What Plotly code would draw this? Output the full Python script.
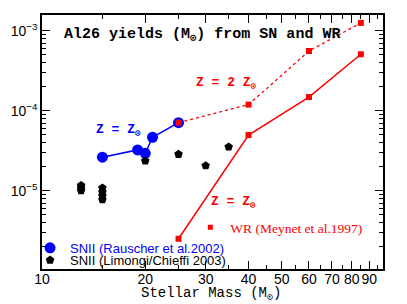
import plotly.graph_objects as go

# ---- data ----
rauscher_mass = [15, 19, 20, 21, 25]
rauscher_al26 = [2.62e-5, 3.23e-5, 2.93e-5, 4.65e-5, 7.08e-5]

limongi_mass = [13, 13, 13, 15, 15, 15, 15, 20, 25, 30, 35]
limongi_al26 = [1.16e-5, 1.08e-5, 1.0e-5, 1.08e-5, 0.96e-5, 0.86e-5, 0.77e-5,
                2.35e-5, 2.85e-5, 2.05e-5, 3.52e-5]

wr_mass = [25, 40, 60, 85]
wr_zsun = [2.5e-6, 4.95e-5, 1.48e-4, 5.07e-4]
wr_2zsun = [7.08e-5, 1.19e-4, 5.57e-4, 1.25e-3]

x_major = [10, 20, 30, 40, 50, 60, 70, 80, 90]
x_major_text = ["10", "20", "30", "40", "50", "60", "70", "80", "90"]
x_minor = [15, 25, 35, 45, 55, 65, 75, 85, 95]
y_major = [1e-5, 1e-4, 1e-3]
y_major_text = ["10<sup>−5</sup>", "10<sup>−4</sup>", "10<sup>−3</sup>"]
y_minor = [m * 10.0 ** e for e in (-6, -5, -4, -3) for m in range(2, 10)]

BLUE = "#0000ff"
RED = "#ff0000"
MONO = "Liberation Mono, Courier New, monospace"
SANS = "Liberation Sans, Arial, sans-serif"
NARROW = "Liberation Sans Narrow, Arial Narrow, Liberation Sans, sans-serif"
SERIF = "Liberation Serif, Times New Roman, serif"

fig = go.Figure()

fig.add_trace(go.Scatter(
    x=wr_mass, y=wr_2zsun, mode="lines+markers",
    line=dict(color=RED, width=1.3, dash="dot"),
    marker=dict(symbol="square", size=6, color=RED),
    showlegend=False))
fig.add_trace(go.Scatter(
    x=wr_mass, y=wr_zsun, mode="lines+markers",
    line=dict(color=RED, width=1.5),
    marker=dict(symbol="square", size=6, color=RED),
    showlegend=False))
fig.add_trace(go.Scatter(
    x=rauscher_mass, y=rauscher_al26, mode="lines+markers",
    line=dict(color=BLUE, width=1.5),
    marker=dict(symbol="circle", size=11, color=BLUE),
    showlegend=False))
fig.add_trace(go.Scatter(
    x=limongi_mass, y=limongi_al26, mode="markers",
    marker=dict(symbol="pentagon", size=9, color="black"),
    showlegend=False))
# red square on top of the 25 Msun blue point
fig.add_trace(go.Scatter(
    x=wr_mass[:1], y=wr_2zsun[:1], mode="markers",
    marker=dict(symbol="square", size=6, color=RED),
    showlegend=False))

# legend-only entries (symbols only)
fig.add_trace(go.Scatter(
    x=[None], y=[None], mode="markers",
    marker=dict(symbol="circle", size=11, color=BLUE),
    name="SNII (Rauscher et al.2002)", legend="legend", showlegend=True))
fig.add_trace(go.Scatter(
    x=[None], y=[None], mode="markers",
    marker=dict(symbol="pentagon", size=9, color="black"),
    name="SNII (Limongi/Chieffi 2003)", legend="legend2", showlegend=True))
fig.add_trace(go.Scatter(
    x=[None], y=[None], mode="markers",
    marker=dict(symbol="square", size=5, color=RED),
    name="WR (Meynet et al.1997)", legend="legend3", showlegend=True))

axis_common = dict(
    type="log", showgrid=False, zeroline=False, automargin=False,
    showline=True, linecolor="black", linewidth=1.5, mirror="allticks",
    ticks="inside", tickcolor="black", tickwidth=1,
    tickmode="array", tickangle=0,
)

leg_common = dict(xanchor="left", yanchor="middle", bgcolor="rgba(0,0,0,0)",
                  borderwidth=0, itemsizing="trace", itemwidth=30)

fig.update_layout(
    width=407, height=304,
    margin=dict(l=42, r=24, t=15, b=35, autoexpand=False),
    paper_bgcolor="white", plot_bgcolor="white",
    xaxis=dict(**axis_common, range=[1, 1.994],
               tickvals=x_major, ticktext=x_major_text, ticklen=8,
               ticklabelstandoff=-4,
               tickfont=dict(family=SANS, size=14, color="black"),
               minor=dict(tickmode="array", tickvals=x_minor, ticks="inside",
                          ticklen=4, tickcolor="black", tickwidth=1)),
    yaxis=dict(**axis_common, range=[-5.98, -2.804],
               tickvals=y_major, ticktext=y_major_text, ticklen=8,
               tickfont=dict(family=SANS, size=14, color="black"),
               minor=dict(tickmode="array", tickvals=y_minor, ticks="inside",
                          ticklen=4, tickcolor="black", tickwidth=1)),
    legend=dict(**leg_common, x=-0.035, y=0.083,
                font=dict(family=NARROW, size=13, color=BLUE)),
    legend2=dict(**leg_common, x=-0.035, y=0.035,
                 font=dict(family=NARROW, size=13, color="black")),
    legend3=dict(**leg_common, x=0.435, y=0.163,
                 font=dict(family=SERIF, size=13.5, color=RED)),
    showlegend=True,
)

ann = [
    dict(text="<b>Al26 yields (M<sub>⊙</sub>) from SN and WR</b>",
         x=0.06, y=0.921, font=dict(family=MONO, size=15, color="black")),
    dict(text="<b>Z = 2 Z<sub>⊙</sub></b>",
         x=0.446, y=0.732, font=dict(family=MONO, size=13, color=RED)),
    dict(text="<b>Z = Z<sub>⊙</sub></b>",
         x=0.153, y=0.547, font=dict(family=MONO, size=13, color=BLUE)),
    dict(text="<b>Z = Z<sub>⊙</sub></b>",
         x=0.49, y=0.26, font=dict(family=MONO, size=13, color=RED)),
    dict(text="Stellar Mass (M<sub>⊙</sub>)",
         x=0.496, y=-0.1, xanchor="center",
         font=dict(family=MONO, size=14, color="black")),
]
for a in ann:
    a.setdefault("xanchor", "left")
    fig.add_annotation(xref="paper", yref="paper", yanchor="middle",
                       showarrow=False, **a)

fig.write_html("out.html",
               config={"displayModeBar": False},
               post_script="document.body.style.margin='0px';"
                           "document.body.style.overflow='hidden';")
